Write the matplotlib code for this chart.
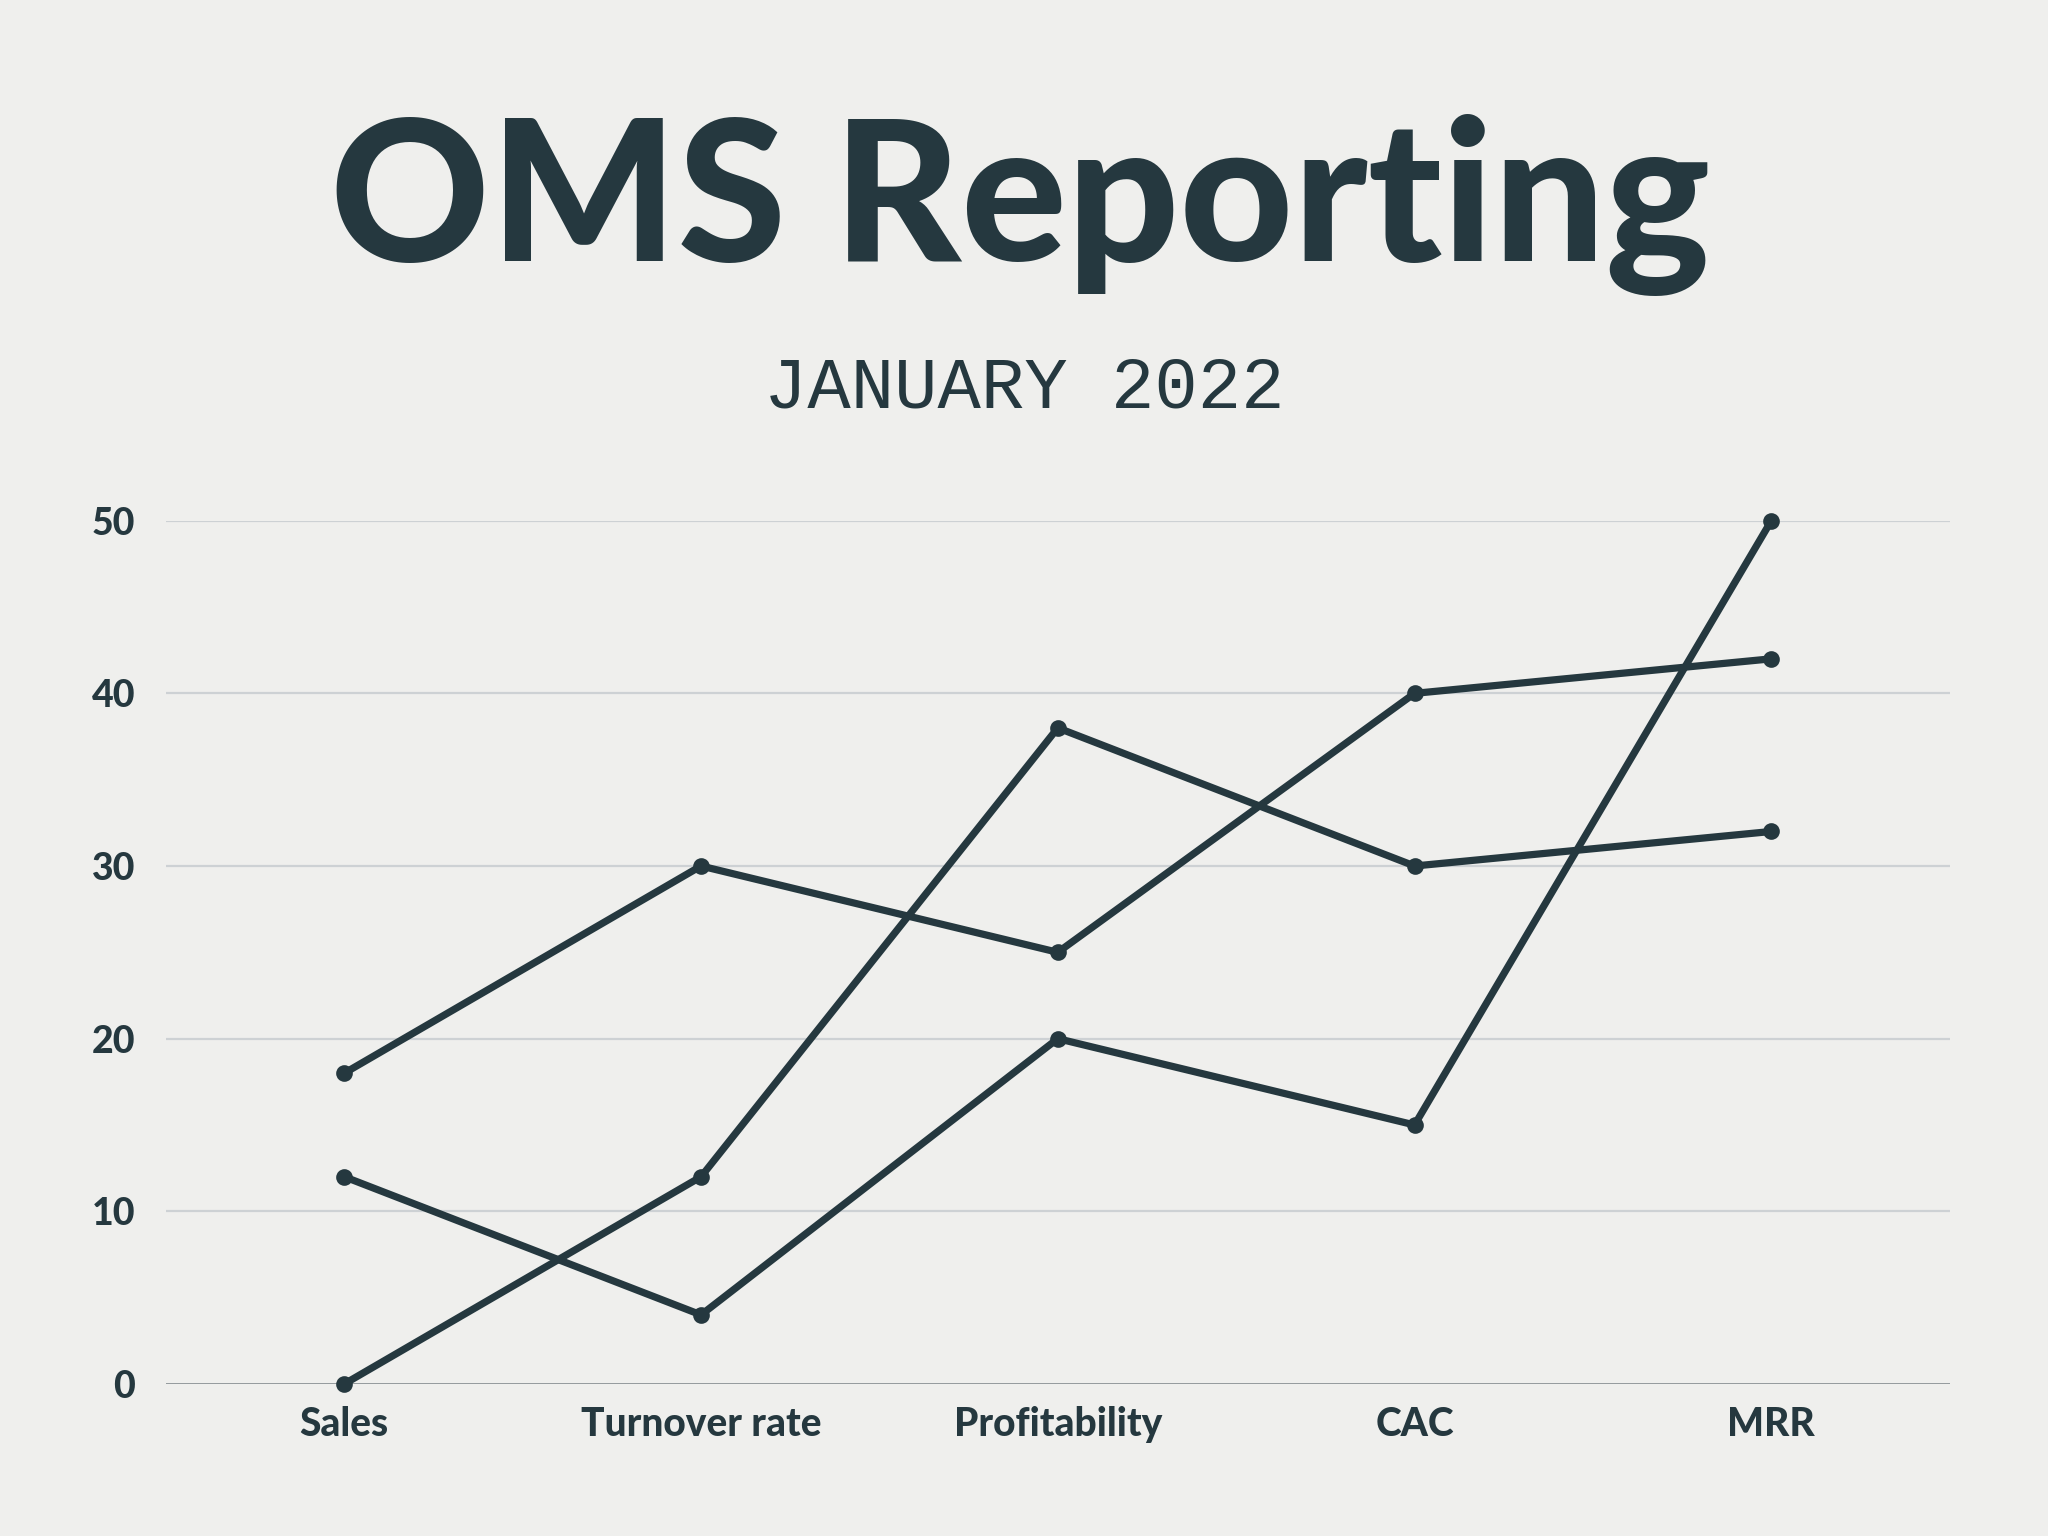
import matplotlib
matplotlib.use('Agg')
import matplotlib.pyplot as plt

# Dados do gráfico
categorias = ['Sales', 'Turnover rate', 'Profitability', 'CAC', 'MRR']
serie_a = [18, 30, 25, 40, 42]
serie_b = [12, 4, 20, 15, 50]
serie_c = [0, 12, 38, 30, 32]
ticks_y = [0, 10, 20, 30, 40, 50]

titulo = 'OMS Reporting'
subtitulo = 'JANUARY 2022'

cor_escura = '#25383f'
cor_fundo = '#efefed'

fig = plt.figure(figsize=(10.24, 7.68), dpi=200, facecolor=cor_fundo)
ax = fig.add_axes([0.081, 0.099, 0.871, 0.562])
ax.set_facecolor(cor_fundo)

x = list(range(len(categorias)))
for serie in (serie_a, serie_b, serie_c):
    ax.plot(x, serie, color=cor_escura, lw=2.6, marker='o', ms=5,
            solid_capstyle='round', clip_on=False, zorder=3)

ax.set_xlim(-0.5, 4.5)
ax.set_ylim(0, 50)
ax.set_yticks(ticks_y)
ax.set_xticks(x)
ax.set_xticklabels(categorias)

# grade horizontal
for v in ticks_y[1:]:
    ax.axhline(v, color='#cdd1d4', lw=0.8, zorder=1)
ax.axhline(0, color='#8c9296', lw=1.0, zorder=2)

for s in ax.spines.values():
    s.set_visible(False)
ax.tick_params(length=0)
ax.tick_params(axis='y', pad=11)
ax.tick_params(axis='x', pad=8)
for lab in ax.get_yticklabels():
    lab.set_fontfamily('Lato')
    lab.set_fontweight('black')
    lab.set_fontsize(13.5)
    lab.set_color(cor_escura)
for lab in ax.get_xticklabels():
    lab.set_fontfamily('Lato')
    lab.set_fontweight('black')
    lab.set_fontsize(14)
    lab.set_color(cor_escura)

fig.text(0.498, 0.830, titulo, ha='center', va='baseline', fontsize=71,
         fontfamily='Lato', fontweight='black', color=cor_escura)
fig.text(0.5, 0.735, subtitulo, ha='center', va='baseline', fontsize=26,
         fontfamily='Liberation Mono', color=cor_escura)

fig.savefig('out.png', dpi=200, facecolor=cor_fundo)
